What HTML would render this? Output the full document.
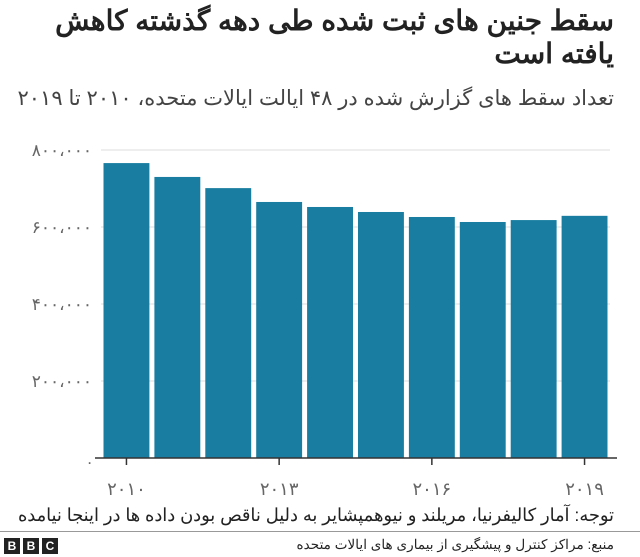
<!DOCTYPE html>
<html lang="fa"><head><meta charset="utf-8">
<style>
body{margin:0;width:640px;height:557px;background:#fff;font-family:"Liberation Sans","Noto Sans CJK SC",sans-serif;overflow:hidden;position:relative}
.t{position:absolute;right:26px;direction:rtl;text-align:right}
</style></head><body>
<div class="t" style="top:4px;width:600px;font-size:28px;font-weight:bold;line-height:33px;color:#222;white-space:nowrap">سقط جنین های ثبت شده طی دهه گذشته کاهش<br>یافته است</div>
<div class="t" style="top:86px;font-size:21px;color:#444;white-space:nowrap">تعداد سقط های گزارش شده در ۴۸ ایالت ایالات متحده، ۲۰۱۰ تا ۲۰۱۹</div>
<svg id="chart" width="640" height="500" style="position:absolute;left:0;top:0"></svg>
<div class="t" style="top:505px;font-size:17.8px;color:#222;white-space:nowrap">توجه: آمار کالیفرنیا، مریلند و نیوهمپشایر به دلیل ناقص بودن داده ها در اینجا نیامده</div>
<div style="position:absolute;left:0;right:0;top:531px;height:1px;background:#999"></div>
<div class="t" style="top:537px;font-size:13.6px;color:#222;white-space:nowrap">منبع: مراکز کنترل و پیشگیری از بیماری های ایالات متحده</div>
<div style="position:absolute;left:4px;top:538px;display:flex;gap:3px">
<span style="background:#222;color:#fff;font-weight:bold;font-size:12px;width:16px;height:16px;line-height:16px;text-align:center">B</span>
<span style="background:#222;color:#fff;font-weight:bold;font-size:12px;width:16px;height:16px;line-height:16px;text-align:center">B</span>
<span style="background:#222;color:#fff;font-weight:bold;font-size:12px;width:16px;height:16px;line-height:16px;text-align:center">C</span>
</div>
<script>
const years=["2010","2011","2012","2013","2014","2015","2016","2017","2018","2019"];
const abortions=[766000,730000,701000,665000,652000,639000,626000,613000,618000,629000];
const yTicks=[0,200000,400000,600000,800000];
const yTickLabels=["۰","۲۰۰،۰۰۰","۴۰۰،۰۰۰","۶۰۰،۰۰۰","۸۰۰،۰۰۰"];
const xTickLabels={"2010":"۲۰۱۰","2013":"۲۰۱۳","2016":"۲۰۱۶","2019":"۲۰۱۹"};
const svg=document.getElementById('chart');
const NS="http://www.w3.org/2000/svg";
const x0=101,x1=610,yBase=458,yTop=150;
const band=(x1-x0)/years.length;
const xs=i=>x0+i*band;
const ys=v=>yBase-(v/800000)*(yBase-yTop);
function mk(t,a){const e=document.createElementNS(NS,t);for(const k in a)e.setAttribute(k,a[k]);svg.appendChild(e);return e;}
yTicks.forEach((v,i)=>{
 if(v>0){const g=mk('line',{x1:x0,x2:x1,y1:ys(v),y2:ys(v),stroke:'#ddd','stroke-width':1});
 
 }
 const t=mk('text',{x:92,y:ys(v)+6,'text-anchor':'end','font-size':17,fill:'#666'});
 
 
 t.textContent=v===0?'.':yTickLabels[i];
});
abortions.forEach((v,i)=>{
 const r=mk('rect',{x:xs(i)+2.5,y:ys(v),width:band-5,height:yBase-ys(v),fill:'#187da0'});
 
 
});
const ax=mk('line',{x1:95,x2:617,y1:yBase,y2:yBase,stroke:'#333','stroke-width':1.5});


years.forEach((y,i)=>{
 if(!xTickLabels[y])return;
 const cx=xs(i)+band/2;
 const tk=mk('line',{x1:cx,x2:cx,y1:yBase,y2:yBase+7,stroke:'#333','stroke-width':1.5});
 
 
 const t=mk('text',{x:cx,y:495,'text-anchor':'middle','font-size':18,fill:'#666'});
 
 
 t.textContent=xTickLabels[y];
});
</script>
</body></html>
